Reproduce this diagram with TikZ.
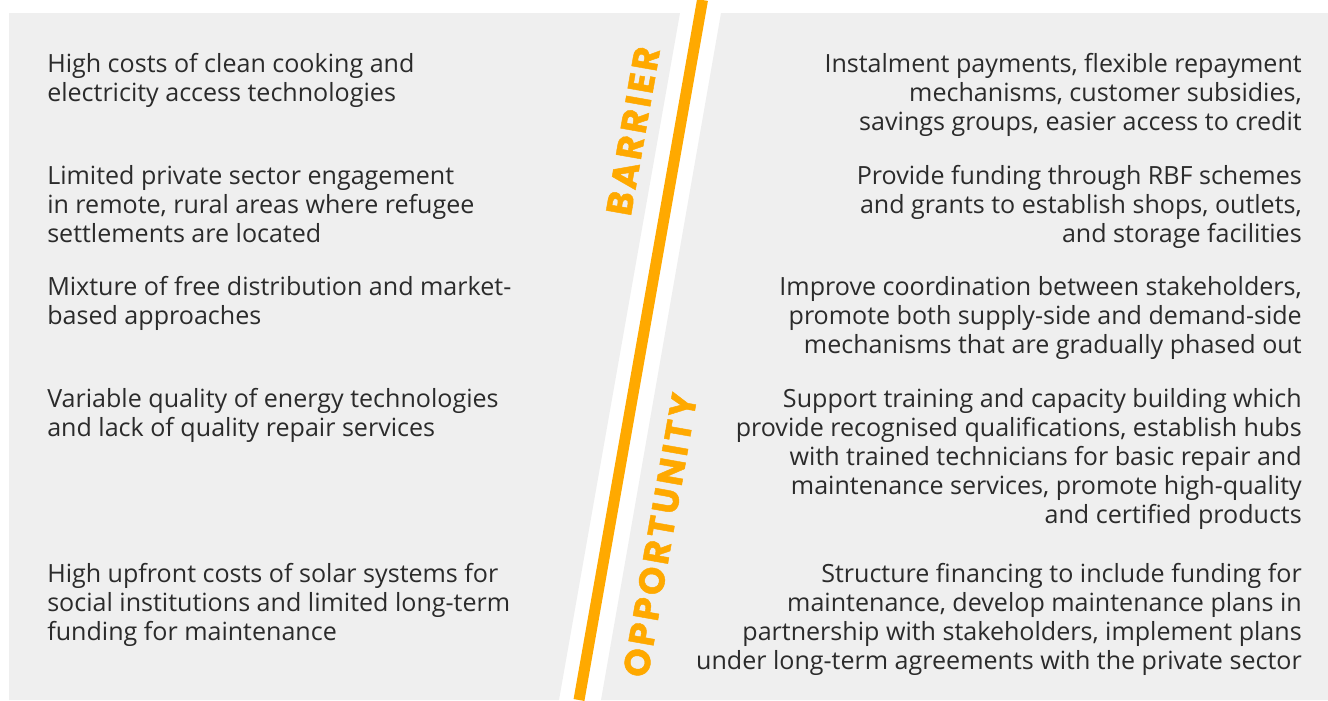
\documentclass[tikz,border=0pt]{standalone}
\usepackage{fontspec}
\setmainfont{Open Sans}
\newfontfamily\headfont{Poppins Bold}[LetterSpace=9,FakeBold=1.2]
\definecolor{panelgrey}{HTML}{EFEFEF}
\definecolor{textgrey}{HTML}{2B2B2B}
\definecolor{accent}{HTML}{FFA900}

\begin{document}
\begin{tikzpicture}[x=0.75pt,y=-0.75pt]

\tikzset{panel/.style = {fill=panelgrey,draw=none}}
\tikzset{barrier/.style = {anchor=base west,align=left,inner sep=0pt,text=textgrey,font=\fontsize{18.8}{21.75}\selectfont}}
\tikzset{chance/.style = {anchor=base east,align=right,inner sep=0pt,text=textgrey,font=\fontsize{18.8}{21.75}\selectfont}}
\tikzset{heading/.style = {rotate=80,inner sep=0pt,text=accent,font=\headfont\fontsize{27}{27}\selectfont}}
\useasboundingbox (0,0) rectangle (1328,700);
%panels
\fill[panel] (9,13) -- (680,13) -- (559,700) -- (9,700) -- cycle;
\fill[panel] (721,13) -- (1328,13) -- (1328,700) -- (601,700) -- cycle;
\coordinate (top) at (702.5,0);
\coordinate (bottom) at (579,700);
\draw[accent,line width=8.25pt] (top) -- (bottom);
%headings
\node[heading] (barrier) at (633,131) {BARRIER};
\node[heading] (opportunity) at (660,535) {OPPORTUNITY};
%barriers (anchored at the baseline of the last line)
\node[barrier] (b1) at (47,101) {High costs of clean cooking and\\electricity access technologies};
\node[barrier] (b2) at (47,242) {Limited private sector engagement\\in remote, rural areas where refugee\\settlements are located};
\node[barrier] (b3) at (47,324) {Mixture of free distribution and market-\\based approaches};
\node[barrier] (b4) at (47,436) {Variable quality of energy technologies\\and lack of quality repair services};
\node[barrier] (b5) at (47,640) {High upfront costs of solar systems for\\social institutions and limited long-term\\funding for maintenance};
%opportunities
\node[chance] (o1) at (1302,130) {Instalment payments, flexible repayment\\mechanisms, customer subsidies,\\savings groups, easier access to credit};
\node[chance] (o2) at (1302,242) {Provide funding through RBF schemes\\and grants to establish shops, outlets,\\and storage facilities};
\node[chance] (o3) at (1302,353) {Improve coordination between stakeholders,\\promote both supply-side and demand-side\\mechanisms that are gradually phased out};
\node[chance] (o4) at (1302,523) {Support training and capacity building which\\provide recognised qualifications, establish hubs\\with trained technicians for basic repair and\\maintenance services, promote high-quality\\and certified products};
\node[chance] (o5) at (1302,669) {Structure financing to include funding for\\maintenance, develop maintenance plans in\\partnership with stakeholders, implement plans\\under long-term agreements with the private sector};

\end{tikzpicture}
\end{document}
